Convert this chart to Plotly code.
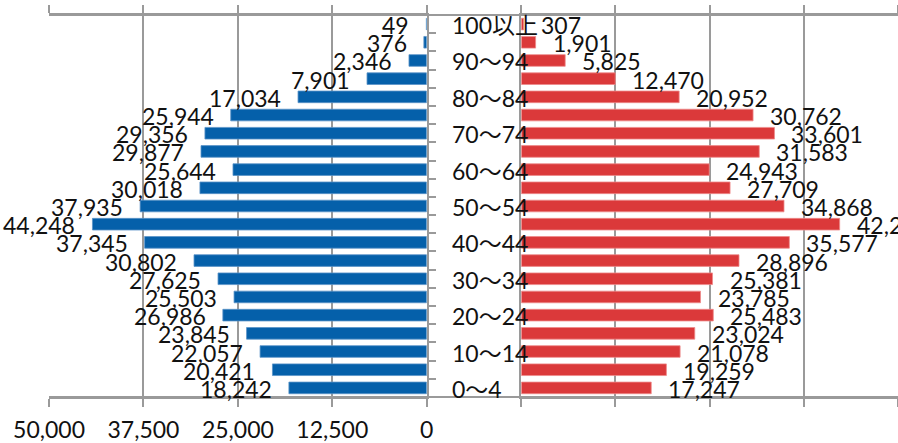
import plotly.graph_objects as go

# Age groups, bottom (0~4) to top (100以上)
ages = ["0～4", "5～9", "10～14", "15～19", "20～24", "25～29", "30～34", "35～39",
        "40～44", "45～49", "50～54", "55～59", "60～64", "65～69", "70～74",
        "75～79", "80～84", "85～89", "90～94", "95～99", "100以上"]
male = [18242, 20421, 22057, 23845, 26986, 25503, 27625, 30802, 37345, 44248,
        37935, 30018, 25644, 29877, 29356, 25944, 17034, 7901, 2346, 376, 49]
female = [17247, 19259, 21078, 23024, 25483, 23785, 25381, 28896, 35577, 42256,
          34868, 27709, 24943, 31583, 33601, 30762, 20952, 12470, 5825, 1901, 307]
tick_vals = [0, 12500, 25000, 37500, 50000]

W, H = 898, 443
FONT = "Lato, 'Noto Sans CJK JP', sans-serif"
GRID = "#9a9a9a"
BLUE = "#0560aa"
RED = "#db393a"

def px(x):
    return x / W

fig = go.Figure()
fig.add_trace(go.Bar(y=ages, x=male, orientation="h", xaxis="x", yaxis="y",
                     marker=dict(color=BLUE, line=dict(color="#5b93c8", width=0.8)),
                     hoverinfo="x+y", showlegend=False))
fig.add_trace(go.Bar(y=ages, x=female, orientation="h", xaxis="x2", yaxis="y2",
                     marker=dict(color=RED, line=dict(color="#ee8a8a", width=0.8)),
                     hoverinfo="x+y", showlegend=False))

annotations = []
for a, v in zip(ages, male):
    annotations.append(dict(x=v, y=a, xref="x", yref="y", text=f"{v:,}",
                            showarrow=False, xanchor="right", yanchor="middle",
                            xshift=-15, yshift=-1,
                            font=dict(family=FONT, size=23, color="#111")))
for a, v in zip(ages, female):
    annotations.append(dict(x=v, y=a, xref="x2", yref="y2", text=f"{v:,}",
                            showarrow=False, xanchor="left", yanchor="middle",
                            xshift=15, yshift=-1,
                            font=dict(family=FONT, size=23, color="#111")))
for i, a in enumerate(ages):
    if i % 2 == 0:
        annotations.append(dict(x=px(450), y=a, xref="paper", yref="y", text=a,
                                showarrow=False, xanchor="left", yanchor="middle",
                                yshift=-1,
                                font=dict(family=FONT, size=23, color="#111")))

axis_common = dict(tickvals=tick_vals, showgrid=True, gridcolor=GRID,
                   gridwidth=1.5, showline=True, linecolor=GRID, linewidth=2,
                   mirror="ticks", ticks="outside", ticklen=8, tickcolor=GRID,
                   tickwidth=1.5, zeroline=False, fixedrange=True, automargin=False)

fig.update_layout(
    width=W, height=H,
    margin=dict(l=0, r=0, t=15, b=46, autoexpand=False),
    paper_bgcolor="white", plot_bgcolor="white",
    bargap=0.36,
    font=dict(family=FONT, size=23, color="#111"),
    xaxis=dict(axis_common, domain=[px(49), px(426.7)], range=[50000, 0],
               tickformat=",d", ticklabelstandoff=3,
               tickfont=dict(family=FONT, size=23, color="#111"), anchor="y"),
    xaxis2=dict(axis_common, domain=[px(521.3), 1.0], range=[0, 50000],
                showticklabels=False, anchor="y2"),
    yaxis=dict(domain=[0, 1], range=[-0.5, 20.5], anchor="x", side="right",
               showline=True, linecolor=GRID, linewidth=2, ticks="outside",
               ticklen=7, tickcolor=GRID, tickwidth=1.5, tickson="boundaries",
               showticklabels=False, showgrid=False, zeroline=False,
               fixedrange=True, automargin=False),
    yaxis2=dict(domain=[0, 1], range=[-0.5, 20.5], anchor="x2", side="left",
                showline=True, linecolor=GRID, linewidth=2, ticks="",
                showticklabels=False, showgrid=False, zeroline=False,
                fixedrange=True, automargin=False),
    annotations=annotations,
    shapes=[
        dict(type="line", xref="paper", yref="paper", x0=px(49), x1=1.0, y0=1, y1=1,
             line=dict(color=GRID, width=2), layer="below"),
        dict(type="line", xref="paper", yref="paper", x0=px(49), x1=1.0, y0=0, y1=0,
             line=dict(color=GRID, width=2), layer="below"),
    ],
)

fig.write_html("out.html", config={"displayModeBar": False},
               post_script="document.body.style.margin='0';document.body.style.overflow='hidden';")
